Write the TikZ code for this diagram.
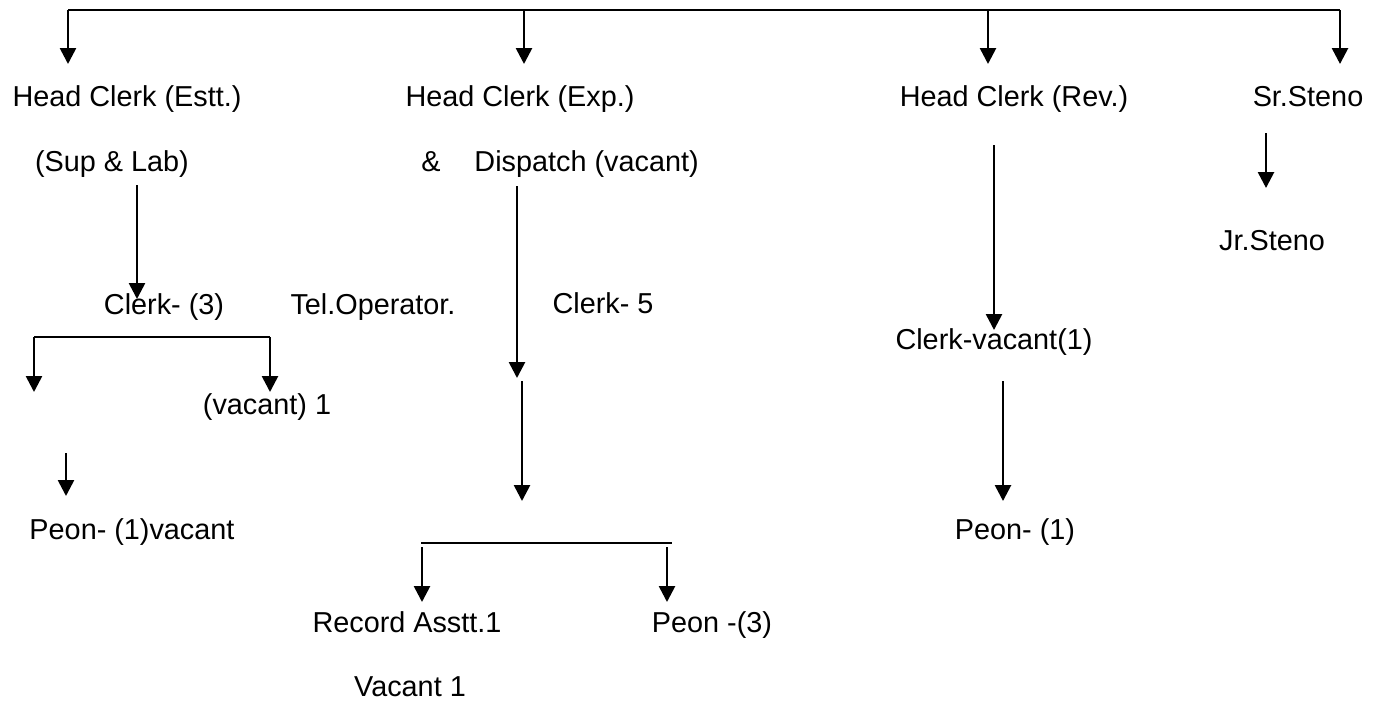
\documentclass[tikz,border=0pt]{standalone}
\usepackage{fontspec}
\setmainfont{Liberation Sans}
\usetikzlibrary{arrows.meta, positioning}

\tikzset{
    post/.style={text=black, inner sep=0pt, text height=0.74em, text depth=0.21em,
                 yshift=-2.6pt, font=\fontsize{16.4}{19}\selectfont},
    link/.style={line width=1.5pt, -{Triangle[width=0.32cm, length=0.32cm]}},
    rail/.style={line width=1.5pt}
}

\begin{document}
\begin{tikzpicture}[x=0.02cm, y=-0.02cm]

    \useasboundingbox (0,0) rectangle (1381,704);

    % =================================================================
    % 1. MAIN COORDINATES (TOP RAIL AND ARROW ENDS)
    % =================================================================
    \coordinate (RailL) at (68,10);
    \coordinate (RailR) at (1340,10);
    \coordinate (EsttTop) at (68,10);    \coordinate (EsttTip) at (68,64);
    \coordinate (ExpTop) at (524,10);    \coordinate (ExpTip) at (524,64);
    \coordinate (RevTop) at (988,10);    \coordinate (RevTip) at (988,64);
    \coordinate (StenoTop) at (1340,10); \coordinate (StenoTip) at (1340,64);

    % Estt. branch
    \coordinate (SupFrom) at (137,185);  \coordinate (SupTip) at (137,299);
    \coordinate (ClkL) at (34,337);      \coordinate (ClkR) at (270,337);
    \coordinate (ClkLTip) at (34,392);   \coordinate (ClkRTip) at (270,392);
    \coordinate (PeonFrom) at (66,453);  \coordinate (PeonTip) at (66,496);

    % Exp. branch
    \coordinate (DspFrom) at (517,186);  \coordinate (DspTip) at (517,378);
    \coordinate (MidFrom) at (522,381);  \coordinate (MidTip) at (522,501);
    \coordinate (RecL) at (421,543);     \coordinate (RecR) at (672,543);
    \coordinate (RecFrom) at (422,547);  \coordinate (RecTip) at (422,602);
    \coordinate (PnFrom) at (667,547);   \coordinate (PnTip) at (667,602);

    % Rev. branch
    \coordinate (RevFrom) at (994,145);  \coordinate (RevDown) at (994,330);
    \coordinate (CvFrom) at (1003,381);  \coordinate (CvTip) at (1003,501);

    % Steno branch
    \coordinate (SrFrom) at (1266,133);  \coordinate (SrTip) at (1266,188);

    % =================================================================
    % 2. POSTS (TEXT NODES)
    % =================================================================
    \node[post] (hcEstt) at (127,97) {Head Clerk (Estt.)};
    \node[post] (hcExp) at (520,97) {Head Clerk (Exp.)};
    \node[post] (hcRev) at (1014,97) {Head Clerk (Rev.)};
    \node[post] (srSteno) at (1308,97) {Sr.Steno};

    \node[post] (supLab) at (112,162) {(Sup \& Lab)};
    \node[post] (dispatch) at (560,162) {\&\hspace{1.18em}Dispatch (vacant)};
    \node[post] (jrSteno) at (1272,241) {Jr.Steno};

    \node[post] (clerkThree) at (164,305) {Clerk- (3)};
    \node[post] (telOp) at (373,305) {Tel.Operator.};
    \node[post] (clerkFive) at (603,304) {Clerk- 5};
    \node[post] (clerkVac) at (994,340) {Clerk-vacant(1)};

    \node[post] (vacOne) at (267,405) {(vacant) 1};
    \node[post] (peonVac) at (132,530) {Peon- (1)vacant};
    \node[post] (peonOne) at (1015,530) {Peon- (1)};

    \node[post] (recAsstt) at (407,623) {Record Asstt.1};
    \node[post] (peonThree) at (712,623) {Peon -(3)};
    \node[post] (vacantOne) at (410,687) {Vacant 1};

    % =================================================================
    % 3. RAILS AND ARROWS
    % =================================================================
    \draw[rail] (RailL) -- (RailR);
    \draw[link] (EsttTop) -- (EsttTip);
    \draw[link] (ExpTop) -- (ExpTip);
    \draw[link] (RevTop) -- (RevTip);
    \draw[link] (StenoTop) -- (StenoTip);

    \draw[link] (SupFrom) -- (SupTip);
    \draw[rail] (ClkL) -- (ClkR);
    \draw[link] (ClkL) -- (ClkLTip);
    \draw[link] (ClkR) -- (ClkRTip);
    \draw[link] (PeonFrom) -- (PeonTip);

    \draw[link] (DspFrom) -- (DspTip);
    \draw[link] (MidFrom) -- (MidTip);
    \draw[rail] (RecL) -- (RecR);
    \draw[link] (RecFrom) -- (RecTip);
    \draw[link] (PnFrom) -- (PnTip);

    \draw[link] (RevFrom) -- (RevDown);
    \draw[link] (CvFrom) -- (CvTip);

    \draw[link] (SrFrom) -- (SrTip);

\end{tikzpicture}
\end{document}
